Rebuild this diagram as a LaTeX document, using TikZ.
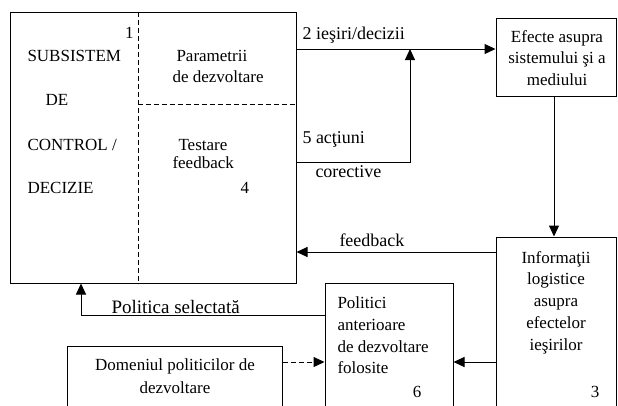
\documentclass[tikz,border=0pt]{standalone}
\usepackage{fontspec}
\setmainfont{Liberation Serif}
\usetikzlibrary{arrows.meta}
\begin{document}
\begin{tikzpicture}[x=1pt,y=-1pt,
  line width=1pt,
  box/.style={draw, rectangle, inner sep=0pt},
  arr/.style={-{Triangle[length=11pt,width=10pt]}},
  txt/.style={inner sep=0pt, font=\fontsize{17}{21.5}\selectfont},
  lbl/.style={inner sep=0pt, font=\fontsize{18}{21.5}\selectfont},
  divider/.style={dashed, line width=0.8pt, dash pattern=on 5pt off 3pt}]
\useasboundingbox (0,0) rectangle (618,405);
\clip (0,0) rectangle (618,405);

% boxes (the lower three run past the bottom edge)
\node[box, minimum width=286pt, minimum height=271pt] (main) at (153,147.5) {};
\node[box, minimum width=120.5pt, minimum height=78pt] (efe) at (556.25,57) {};
\node[box, minimum width=120.5pt, minimum height=183pt] (inf) at (556.25,328.5) {};
\node[box, minimum width=128pt, minimum height=137pt] (pol) at (389,351.5) {};
\node[box, minimum width=215pt, minimum height=74pt] (dom) at (174.5,383) {};

% internal partitions of the control subsystem
\draw[divider] (main.north -| 138,0) -- (main.south -| 138,0);
\draw[divider] (138,104) -- (main.east |- 0,104);

% control subsystem texts
\node[txt, anchor=base east] (n1) at (134,38) {1};
\node[txt, anchor=base west] (s1) at (27,61) {SUBSISTEM};
\node[txt, anchor=base west] (s2) at (45,105) {DE};
\node[txt, anchor=base west] (s3) at (27,150) {CONTROL /};
\node[txt, anchor=base west] (s4) at (27,193) {DECIZIE};
\node[txt, anchor=base west] (p1) at (176,61.5) {Parametrii};
\node[txt, anchor=base west] (p2) at (172,82.5) {de dezvoltare};
\node[txt, anchor=base west] (t1) at (178,150) {Testare};
\node[txt, anchor=base west] (t2) at (172,168.5) {feedback};
\node[txt, anchor=base west] (n4) at (240,193) {4};

% effects box
\node[txt, anchor=base] (e1) at (557,42) {Efecte asupra};
\node[txt, anchor=base] (e2) at (557,63.5) {sistemului şi a};
\node[txt, anchor=base] (e3) at (557,85) {mediului};

% information box
\node[txt, anchor=base] (i1) at (556,263) {Informaţii};
\node[txt, anchor=base] (i2) at (556,284.5) {logistice};
\node[txt, anchor=base] (i3) at (556,306) {asupra};
\node[txt, anchor=base] (i4) at (556,328) {efectelor};
\node[txt, anchor=base] (i5) at (556,350) {ieşirilor};
\node[txt, anchor=base] (n3) at (595,397) {3};

% previous policies box
\node[txt, anchor=base west] (q1) at (337,308) {Politici};
\node[txt, anchor=base west] (q2) at (337,330) {anterioare};
\node[txt, anchor=base west] (q3) at (337,352) {de dezvoltare};
\node[txt, anchor=base west] (q4) at (337,373.5) {folosite};
\node[txt, anchor=base] (n6) at (417,397) {6};

% policy domain box
\node[txt, anchor=base] (d1) at (175,370) {Domeniul politicilor de};
\node[txt, anchor=base] (d2) at (175,393) {dezvoltare};

% connectors
\coordinate (join) at (410,49);
\draw[arr] (main.east |- 0,49) -- (efe.west |- 0,49);
\draw[arr] (main.east |- 0,162) -| (join);
\draw[arr] (efe.south -| 554,0) -- (inf.north -| 554,0);
\draw[arr] (inf.west |- 0,252) -- (main.east |- 0,252);
\draw[arr] (inf.west |- 0,362) -- (pol.east |- 0,362);
\draw[arr] (pol.west |- 0,315) -| (main.south -| 81,0);
\draw[arr, dashed, dash pattern=on 5pt off 3pt] (dom.east |- 0,362) -- (pol.west |- 0,362);

% connector labels
\node[lbl, anchor=base west] (l2) at (302,39) {2 ieşiri/decizii};
\node[lbl, anchor=base west] (l5) at (302,143) {5 acţiuni};
\node[lbl, anchor=base west] (l5b) at (315,177) {corective};
\node[lbl, anchor=base west] (lf) at (339,246) {feedback};
\node[inner sep=0pt, font=\fontsize{19}{22}\selectfont, anchor=base west] (lp) at (111,313) {Politica selectată};
\end{tikzpicture}
\end{document}
